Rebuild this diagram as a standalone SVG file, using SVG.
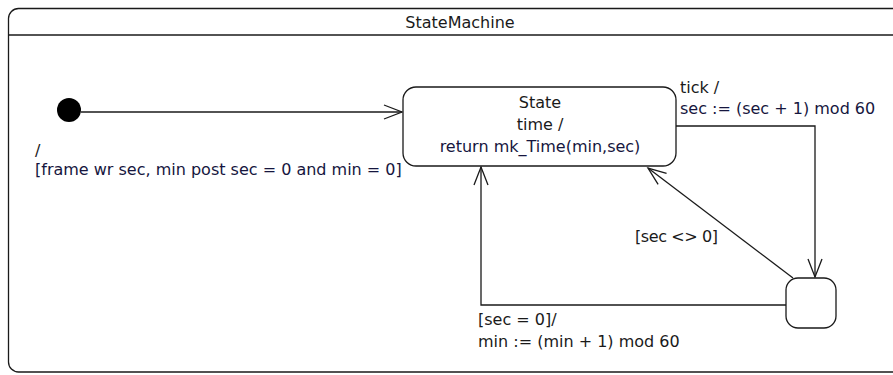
<svg xmlns="http://www.w3.org/2000/svg" width="893" height="375" viewBox="0 0 893 375">
<style>
text{font-family:"DejaVu Sans","Liberation Sans",sans-serif;font-size:16px;fill:#1a1a1a}
.act{fill:#16163e}
.mid{text-anchor:middle}
.ln{fill:none;stroke:#1a1a1a;stroke-width:1.3}
.box{fill:#fff;stroke:#1a1a1a;stroke-width:1.3}
</style>
<defs>
<marker id="arr" markerWidth="20" markerHeight="16" refX="18" refY="7" orient="auto" markerUnits="userSpaceOnUse" overflow="visible">
<path d="M0,0 L18,7 L0,14" fill="none" stroke="#1a1a1a" stroke-width="1.3"/>
</marker>
</defs>
<rect width="893" height="375" fill="#fff"/>
<g id="frame">
<rect x="8.5" y="8.5" width="920" height="363.5" rx="10" class="box" stroke-width="1.5"/>
<line x1="8.5" y1="35" x2="893" y2="35" class="ln" stroke-width="1.5"/>
<text x="460" y="28" class="mid">StateMachine</text>
</g>
<g id="connectors">
<path d="M81,112 H402" class="ln" marker-end="url(#arr)"/>
<path d="M676,126 H815 V277" class="ln" marker-end="url(#arr)"/>
<path d="M793,278 L648,168" class="ln" marker-end="url(#arr)"/>
<path d="M786,305 H481 V167" class="ln" marker-end="url(#arr)"/>
<text x="35" y="156">/</text>
<text x="35" y="175" class="act">[frame wr sec, min post sec = 0 and min = 0]</text>
<text x="680" y="93">tick /</text>
<text x="680" y="114" class="act">sec := (sec + 1) mod 60</text>
<text x="635" y="242" letter-spacing="-0.4">[sec &lt;&gt; 0]</text>
<text x="478" y="325">[sec = 0]/</text>
<text x="478" y="347">min := (min + 1) mod 60</text>
</g>
<g id="initial">
<circle cx="69" cy="110" r="12" fill="#000"/>
</g>
<g id="state">
<rect x="403" y="87" width="273" height="79" rx="13" class="box"/>
<text x="540" y="108" class="mid">State</text>
<text x="540" y="130" class="mid">time /</text>
<text x="540" y="152" class="mid act">return mk_Time(min,sec)</text>
</g>
<g id="choice">
<rect x="786" y="278" width="50" height="50" rx="12" class="box"/>
</g>
</svg>
